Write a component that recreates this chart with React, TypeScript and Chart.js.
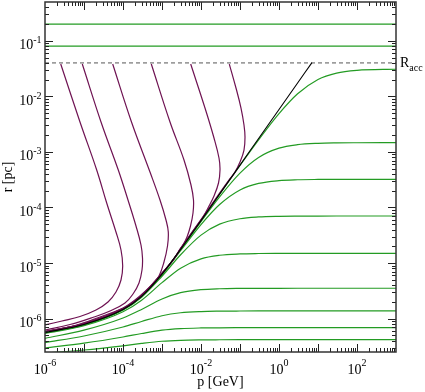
import React, { useEffect, useRef } from 'react';
import { Chart, registerables } from 'chart.js';
Chart.register(...registerables);

// ---- axis ranges & tick labels ----
const xMin = 1e-6;
const xMax = 1e3;
const yMin = 2.5e-7;
const yMax = 0.5;
const xLabelExps = [-6, -4, -2, 0, 2];
const yLabelExps = [-6, -5, -4, -3, -2, -1];

// ---- reference levels ----
const rAcc = 0.04;
const topLevels = [0.2, 0.08];

// ---- black boundary curve ----
const blackP = [1e-6, 1e-5, 1e-4, 3e-4, 1e-3, 3e-3, 1e-2, 3e-2, 0.1, 0.3, 1, 3, 7];
const blackR = [5.6e-7, 7.8e-7, 1.45e-6, 2.5e-6, 6.3e-6, 1.76e-5, 5.8e-5, 1.74e-4, 5.8e-4, 1.74e-3, 5.8e-3, 1.74e-2, 4.06e-2];

// ---- green curves (shared p grid) ----
const gridP = [1e-6, 1e-5, 1e-4, 3e-4, 1e-3, 3e-3, 1e-2, 3e-2, 0.1, 0.3, 1, 3, 10, 30, 100, 1000];
const green1R = [5.6e-7, 7.8e-7, 1.45e-6, 2.5e-6, 6.3e-6, 1.759e-5, 5.79e-5, 1.73e-4, 5.69e-4, 1.648e-3, 4.89e-3, 1.115e-2, 2.02e-2, 2.63e-2, 2.94e-2, 3.08e-2];
const green2R = [5.6e-7, 7.8e-7, 1.449e-6, 2.496e-6, 6.27e-6, 1.739e-5, 5.58e-5, 1.555e-4, 4.156e-4, 7.957e-4, 1.17e-3, 1.352e-3, 1.43e-3, 1.454e-3, 1.462e-3, 1.466e-3];
const green3R = [5.59e-7, 7.78e-7, 1.443e-6, 2.481e-6, 6.18e-6, 1.669e-5, 4.912e-5, 1.128e-4, 2.066e-4, 2.71e-4, 3.042e-4, 3.152e-4, 3.192e-4, 3.204e-4, 3.208e-4, 3.21e-4];
const green4R = [5.56e-7, 7.71e-7, 1.421e-6, 2.414e-6, 5.78e-6, 1.407e-5, 3.176e-5, 5.002e-5, 6.262e-5, 6.748e-5, 6.936e-5, 6.992e-5, 7.01e-5, 7.017e-5, 7.019e-5, 7.02e-5];
const green5R = [5.4e-7, 7.41e-7, 1.322e-6, 2.142e-6, 4.433e-6, 8.086e-6, 1.189e-5, 1.378e-5, 1.458e-5, 1.483e-5, 1.492e-5, 1.495e-5, 1.496e-5, 1.496e-5, 1.496e-5, 1.496e-5];
const green6R = [4.4e-7, 6.2e-7, 1.026e-6, 1.46e-6, 2.254e-6, 2.926e-6, 3.31e-6, 3.441e-6, 3.489e-6, 3.503e-6, 3.508e-6, 3.51e-6, 3.51e-6, 3.51e-6, 3.51e-6, 3.51e-6];
const green7R = [3.7e-7, 4.85e-7, 7.04e-7, 8.85e-7, 1.125e-6, 1.271e-6, 1.338e-6, 1.359e-6, 1.367e-6, 1.37e-6, 1.37e-6, 1.37e-6, 1.37e-6, 1.37e-6, 1.37e-6, 1.37e-6];
const green8R = [2.95e-7, 3.6e-7, 4.652e-7, 5.377e-7, 6.178e-7, 6.59e-7, 6.77e-7, 6.823e-7, 6.842e-7, 6.85e-7, 6.85e-7, 6.85e-7, 6.85e-7, 6.85e-7, 6.85e-7, 6.85e-7];
const green9R = [2.39e-7, 2.713e-7, 3.233e-7, 3.567e-7, 3.902e-7, 4.063e-7, 4.13e-7, 4.15e-7, 4.16e-7, 4.16e-7, 4.16e-7, 4.16e-7, 4.16e-7, 4.16e-7, 4.16e-7, 4.16e-7];

// ---- purple curves (each its own p,r list) ----
const purple1P = [2.53e-6, 7.89e-6, 2.116e-5, 3.82e-5, 6.61e-5, 8.89e-5, 9.82e-5, 8.89e-5, 6.61e-5, 4.124e-5, 2.03e-5, 7.89e-6, 2.73e-6, 1e-6];
const purple1R = [0.0382, 3.455e-3, 4.725e-4, 1.203e-4, 3.615e-5, 1.715e-5, 8.83e-6, 4.945e-6, 3.006e-6, 1.987e-6, 1.426e-6, 1.089e-6, 9.04e-7, 7.66e-7];
const purple2P = [9.04e-6, 2.73e-5, 7.575e-5, 1.343e-4, 2.154e-4, 2.894e-4, 3.162e-4, 3.07e-4, 2.572e-4, 1.805e-4, 1.125e-4, 4.64e-5, 1.805e-5, 4.375e-6, 1e-6];
const purple2R = [0.0382, 3.455e-3, 4.725e-4, 1.362e-4, 4.637e-5, 2.11e-5, 1.231e-5, 7.48e-6, 4.366e-6, 2.768e-6, 1.906e-6, 1.368e-6, 1.067e-6, 7.815e-7, 6.22e-7];
const purple3P = [5.44e-5, 1.651e-4, 4.922e-4, 8.89e-4, 1.266e-3, 1.45e-3, 1.384e-3, 1.125e-3, 8.38e-4, 5.88e-4, 3.665e-4, 2.03e-4, 1e-4, 2.572e-5, 5.88e-6, 1e-6];
const purple3R = [0.0382, 3.455e-3, 4.347e-4, 1.362e-4, 5.947e-5, 3.615e-5, 2.024e-5, 1.042e-5, 5.84e-6, 4.3e-6, 3.07e-6, 2.158e-6, 1.549e-6, 1.067e-6, 7.5e-7, 5.85e-7];
const purple4P = [5.317e-4, 1.604e-3, 3.665e-3, 5.54e-3, 6.42e-3, 6.235e-3, 5.38e-3, 4.375e-3, 3.455e-3, 2e-3, 1e-3, 3e-4, 1e-4, 1e-5, 1e-6];
const purple4R = [0.0382, 3.455e-3, 7.153e-4, 2.537e-4, 1.362e-4, 7.94e-5, 4.637e-5, 2.938e-5, 2.11e-5, 1.18e-5, 6.55e-6, 2.6e-6, 1.51e-6, 8.1e-7, 5.8e-7];
const purple5P = [5.443e-3, 1.266e-2, 2.154e-2, 2.894e-2, 3.07e-2, 2.81e-2, 2.154e-2, 1.512e-2, 1.125e-2, 6e-3, 3e-3, 2e-3, 1e-3, 3e-4, 1e-4, 1e-5, 1e-6];
const purple5R = [0.0382, 6.17e-3, 1.78e-3, 7.77e-4, 4.725e-4, 2.757e-4, 1.608e-4, 9.78e-5, 6.73e-5, 3.64e-5, 1.83e-5, 1.18e-5, 6.55e-6, 2.6e-6, 1.51e-6, 8.1e-7, 5.8e-7];
const purple6P = [5.317e-2, 7.89e-2, 0.1061, 0.1266, 0.1343, 0.1266, 0.1, 7.44e-2, 5.54e-2, 3e-2, 1e-2, 3e-3, 2e-3, 1e-3, 3e-4, 1e-4, 1e-5, 1e-6];
const purple6R = [0.0382, 1.414e-2, 6.17e-3, 3.05e-3, 1.855e-3, 1.082e-3, 6.58e-4, 4.347e-4, 3.3e-4, 1.81e-4, 6.03e-5, 1.83e-5, 1.18e-5, 6.55e-6, 2.6e-6, 1.51e-6, 8.1e-7, 5.8e-7];

const GREEN = '#239b23';
const PURPLE = '#6e1252';
const SERIF = '"Liberation Serif", "Times New Roman", serif';

const zip = (xs: number[], ys: number[]) => xs.map((x, i) => ({ x, y: ys[i] }));

const graceAxes = {
  id: 'graceAxes',
  afterDraw(chart: any) {
    const { ctx, chartArea: a } = chart;
    const xs = chart.scales.x;
    const ys = chart.scales.y;
    ctx.save();
    // ticks
    ctx.strokeStyle = '#222';
    ctx.lineWidth = 1;
    ctx.beginPath();
    for (let e = -7; e <= 3; e++) {
      for (let m = 1; m <= 9; m++) {
        const v = m * Math.pow(10, e);
        const len = m === 1 ? 8 : 4;
        if (v > xMin * 1.001 && v < xMax * 0.999) {
          const px = Math.round(xs.getPixelForValue(v)) + 0.5;
          ctx.moveTo(px, a.bottom);
          ctx.lineTo(px, a.bottom - len);
          ctx.moveTo(px, a.top);
          ctx.lineTo(px, a.top + len);
        }
        if (v > yMin * 1.001 && v < yMax * 0.999) {
          const py = Math.round(ys.getPixelForValue(v)) + 0.5;
          ctx.moveTo(a.left, py);
          ctx.lineTo(a.left + len, py);
          ctx.moveTo(a.right, py);
          ctx.lineTo(a.right - len, py);
        }
      }
    }
    ctx.stroke();
    // frame
    ctx.lineWidth = 1.5;
    ctx.strokeStyle = '#333';
    ctx.strokeRect(a.left, a.top, a.right - a.left, a.bottom - a.top);

    const power = (exp: number, x: number, baseY: number, supOff: number, align: string) => {
      const base = '10';
      const sup = String(exp);
      ctx.font = `14px ${SERIF}`;
      const w1 = ctx.measureText(base).width;
      ctx.font = `10px ${SERIF}`;
      const w2 = ctx.measureText(sup).width;
      const left = align === 'center' ? x - (w1 + w2) / 2 : x - (w1 + w2);
      ctx.fillStyle = '#000';
      ctx.textAlign = 'left';
      ctx.textBaseline = 'alphabetic';
      ctx.font = `14px ${SERIF}`;
      ctx.fillText(base, left, baseY);
      ctx.font = `10px ${SERIF}`;
      ctx.fillText(sup, left + w1, baseY - supOff);
    };
    xLabelExps.forEach((e) => power(e, xs.getPixelForValue(Math.pow(10, e)), a.bottom + 22, 8, 'center'));
    yLabelExps.forEach((e) => power(e, 41.5, ys.getPixelForValue(Math.pow(10, e)) + 8.5, 6, 'right'));

    // axis titles
    ctx.fillStyle = '#000';
    ctx.font = `14px ${SERIF}`;
    ctx.textAlign = 'center';
    ctx.fillText('p [GeV]', (a.left + a.right) / 2, a.bottom + 33.5);
    ctx.save();
    ctx.translate(12, (a.top + a.bottom) / 2);
    ctx.rotate(-Math.PI / 2);
    ctx.fillText('r [pc]', 0, 0);
    ctx.restore();

    // R_acc label
    const ry = ys.getPixelForValue(rAcc);
    ctx.textAlign = 'left';
    ctx.font = `14px ${SERIF}`;
    ctx.fillText('R', a.right + 4, ry + 4);
    const wR = ctx.measureText('R').width;
    ctx.font = `10px ${SERIF}`;
    ctx.fillText('acc', a.right + 4 + wR, ry + 8.5);
    ctx.restore();
  },
};

export default function App() {
  const ref = useRef<HTMLCanvasElement | null>(null);
  useEffect(() => {
    document.body.style.margin = '0';
    if (!ref.current) return;
    const line = (data: any[], color: string, extra: any = {}) => ({
      data,
      borderColor: color,
      borderWidth: 1.2,
      pointRadius: 0,
      fill: false,
      ...extra,
    });
    const mono = { cubicInterpolationMode: 'monotone' };
    const curved = { tension: 0.4 };
    const datasets: any[] = [
      line(zip(blackP, blackR), '#000', { ...mono, borderWidth: 1.1 }),
      line(zip(purple1P, purple1R), PURPLE, curved),
      line(zip(purple2P, purple2R), PURPLE, curved),
      line(zip(purple3P, purple3R), PURPLE, curved),
      line(zip(purple4P, purple4R), PURPLE, curved),
      line(zip(purple5P, purple5R), PURPLE, curved),
      line(zip(purple6P, purple6R), PURPLE, curved),
      ...[green1R, green2R, green3R, green4R, green5R, green6R, green7R, green8R, green9R].map((g) =>
        line(zip(gridP, g), GREEN, mono)
      ),
      ...topLevels.map((v) => line([{ x: xMin, y: v }, { x: xMax, y: v }], GREEN)),
      line([{ x: xMin, y: rAcc }, { x: xMax, y: rAcc }], '#555', { borderDash: [4, 3], borderWidth: 1 }),
    ];
    const chart = new Chart(ref.current, {
      type: 'line',
      data: { datasets },
      options: {
        animation: false,
        responsive: false,
        devicePixelRatio: 1,
        layout: { padding: { left: 45, right: 29, top: 2, bottom: 40 } },
        plugins: { legend: { display: false }, tooltip: { enabled: false } },
        scales: {
          x: { type: 'logarithmic', min: xMin, max: xMax, display: false },
          y: { type: 'logarithmic', min: yMin, max: yMax, display: false },
        },
      } as any,
      plugins: [graceAxes],
    });
    return () => chart.destroy();
  }, []);
  return (
    <div style={{ width: 425, height: 392, position: 'relative' }}>
      <canvas ref={ref} width={425} height={392} style={{ display: 'block', position: 'absolute', left: 0, top: 0 }} />
    </div>
  );
}
